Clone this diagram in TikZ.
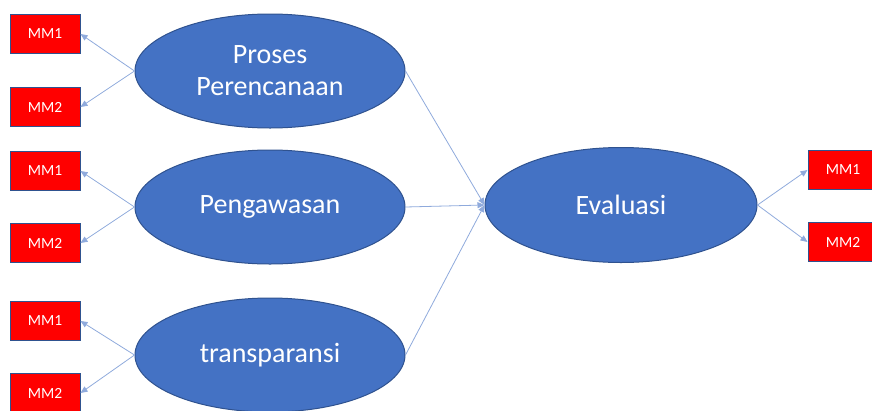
\documentclass[tikz,border=0pt]{standalone}
\usepackage{fontspec}
\setmainfont{Carlito}
\usetikzlibrary{arrows.meta, shapes.geometric}
\definecolor{konstruk}{HTML}{4472C4}
\definecolor{garis}{HTML}{2F528F}
\definecolor{panah}{HTML}{8FAADC}
\begin{document}
\begin{tikzpicture}[x=1pt, y=-1pt,
    konsep/.style={ellipse, draw=garis, fill=konstruk, line width=1pt, minimum width=270pt, minimum height=114pt, inner sep=0pt, text=white, font=\fontsize{28}{32}\selectfont, align=center},
    indikator/.style={draw=garis, fill=red, line width=1pt, minimum width=70pt, minimum height=39pt, inner sep=0pt, text=white, font=\fontsize{15.5}{17}\selectfont},
    panahan/.style={draw=panah, line width=0.8pt, -{Triangle[length=7pt, width=6pt]}}]
        \useasboundingbox (0,0) rectangle (872,410);
        \node[konsep] (pp) at (270,71) {Proses\\Perencanaan};
        \node[konsep] (pg) at (270,207) {Pengawasan};
        \node[konsep] (tr) at (270,355) {transparansi};
        \node[konsep, minimum width=272pt, minimum height=115pt] (ev) at (621,205) {Evaluasi};
        \node[indikator] (pp1) at (45,34) {MM1};
        \node[indikator] (pp2) at (45,107) {MM2};
        \node[indikator] (pg1) at (45,171) {MM1};
        \node[indikator] (pg2) at (45,243) {MM2};
        \node[indikator] (tr1) at (45,321) {MM1};
        \node[indikator] (tr2) at (45,393) {MM2};
        \node[indikator] (ev1) at (843,170) {MM1};
        \node[indikator] (ev2) at (843,242) {MM2};
        \draw[panahan] (pp.west) -- (pp1.east);
        \draw[panahan] (pp.west) -- (pp2.east);
        \draw[panahan] (pg.west) -- (pg1.east);
        \draw[panahan] (pg.west) -- (pg2.east);
        \draw[panahan] (tr.west) -- (tr1.east);
        \draw[panahan] (tr.west) -- (tr2.east);
        \draw[panahan] (pp.east) -- (ev.west);
        \draw[panahan] (pg.east) -- (ev.west);
        \draw[panahan] (tr.east) -- (ev.west);
        \draw[panahan] (ev.east) -- (ev1.west);
        \draw[panahan] (ev.east) -- (ev2.west);
    \end{tikzpicture}
\end{document}
